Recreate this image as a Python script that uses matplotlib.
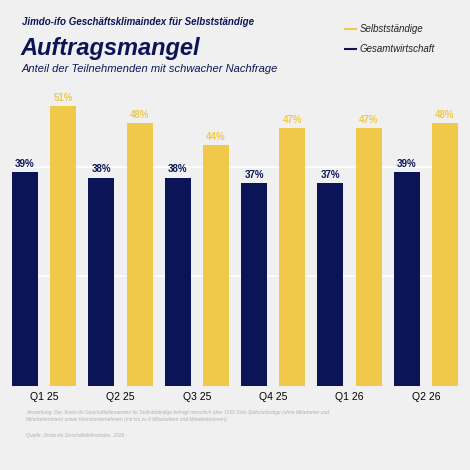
import matplotlib
matplotlib.use("Agg")
import matplotlib.pyplot as plt
import numpy as np

categories = ["Q1 25", "Q2 25", "Q3 25", "Q4 25", "Q1 26", "Q2 26"]
gesamt = [39, 38, 38, 37, 37, 39]
selbst = [51, 48, 44, 47, 47, 48]

bg = "#f0f0f0"
navy = "#0b1457"
yellow = "#f0c94a"
plt.rcParams['font.family'] = ['Liberation Sans', 'DejaVu Sans']

fig = plt.figure(figsize=(4.7, 4.7), dpi=100, facecolor=bg)
ax = fig.add_axes([12/470, 1-386/470, 446/470, 296/470], facecolor=bg)
x = np.arange(len(categories))
w = 0.34
b1 = ax.bar(x - 0.25, gesamt, w, color=navy, zorder=3)
b2 = ax.bar(x + 0.25, selbst, w, color=yellow, zorder=3)
for r, v in zip(b1, gesamt):
    ax.text(r.get_x() + r.get_width()/2, v + 0.6, f"{v}%", ha="center", va="bottom",
            fontsize=7, fontweight="bold", color=navy)
for r, v in zip(b2, selbst):
    ax.text(r.get_x() + r.get_width()/2, v + 0.6, f"{v}%", ha="center", va="bottom",
            fontsize=7, fontweight="bold", color=yellow)
ax.set_xlim(-0.42, 5.42)
ax.set_ylim(0, 54)
ax.set_yticks([20, 40])
ax.yaxis.grid(True, color="white", linewidth=1.2, zorder=0)
ax.tick_params(axis="y", length=0, labelleft=False)
ax.tick_params(axis="x", length=0, labelsize=7.5, pad=4)
ax.set_xticks(x)
ax.set_xticklabels(categories)
for s in ax.spines.values():
    s.set_visible(False)

fig.text(22/470, 1-22/470, "Jimdo-ifo Geschäftsklimaindex für Selbstständige", fontsize=7,
         fontweight="bold", style="italic", color=navy, va="center")
fig.text(20/470, 1-49/470, "Auftragsmangel", fontsize=17, fontweight="bold", style="italic",
         color=navy, va="center")
fig.text(22/470, 1-69/470, "Anteil der Teilnehmenden mit schwacher Nachfrage", fontsize=8,
         style="italic", color=navy, va="center")
for yy, lab, c in [(29, "Selbstständige", yellow), (49, "Gesamtwirtschaft", navy)]:
    fig.lines.append(plt.Line2D([345/470, 356/470], [1-yy/470]*2, color=c, lw=1.5,
                                transform=fig.transFigure))
    fig.text(360/470, 1-yy/470, lab, fontsize=7, style="italic", color="#222222", va="center")

fig.text(26/470, 1-416/470,
         "Anmerkung: Der Jimdo-ifo Geschäftsklimaindex für Selbstständige befragt monatlich über 1600 Solo-Selbstständige (ohne Mitarbeiter und\nMitarbeiterinnen) sowie Kleinstunternehmen (mit bis zu 9 Mitarbeitern und Mitarbeiterinnen).",
         fontsize=3.6, style="italic", color="#b0b0b0", va="center", linespacing=1.5)
fig.text(26/470, 1-435/470, "Quelle: Jimdo-ifo Geschäftsklimaindex, 2026", fontsize=3.6,
         style="italic", color="#b0b0b0", va="center")
fig.savefig("out.png", dpi=100, facecolor=bg)
